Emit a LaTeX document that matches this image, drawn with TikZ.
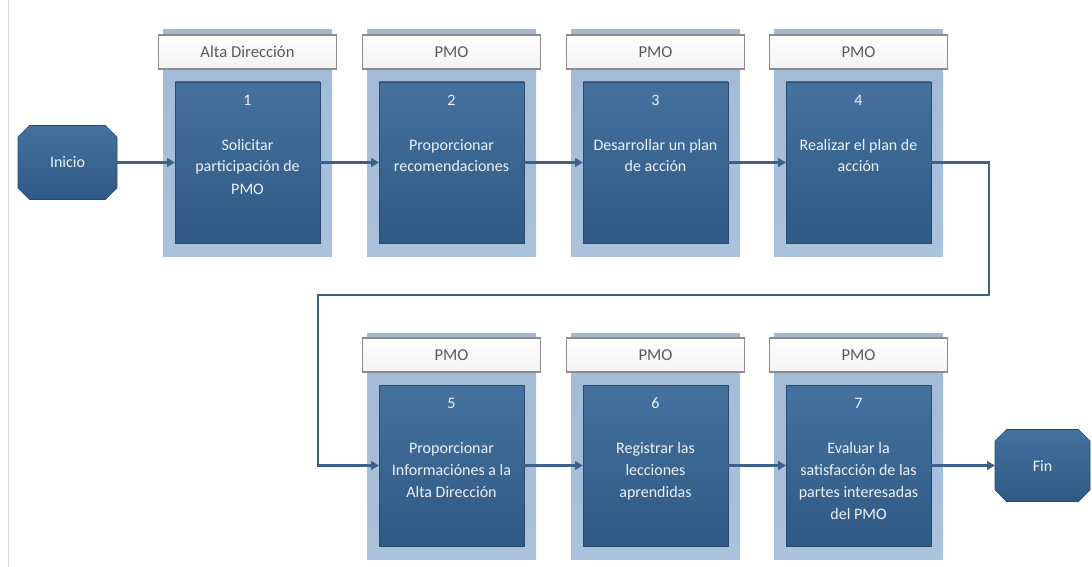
\documentclass[tikz,border=0pt]{standalone}
\usepackage{fontspec}
\setmainfont{Carlito}
\usetikzlibrary{arrows.meta,shapes.misc}
\definecolor{lightbox}{RGB}{170,194,220}
\definecolor{lighttop}{RGB}{160,186,214}
\definecolor{darktop}{RGB}{68,113,158}
\definecolor{darkbot}{RGB}{47,90,133}
\definecolor{arrowc}{RGB}{60,98,140}
\definecolor{hdredge}{RGB}{140,140,140}
\definecolor{hdrtext}{RGB}{90,90,90}
\definecolor{boxtext}{RGB}{236,241,246}
\definecolor{pageline}{RGB}{215,215,215}
\newcommand\pstep[6]{%
  \node[outerbox] (#1o) at (#2+84.5,#3+113) {};
  \node[hdrbox] (#1h) at (#2+84.5,#3+22) {#4};
  \node[innerbox] (#1i) at (#2+84.5,#3+132.5) {};
  \node[numtxt] (#1n) at (#2+84.5,#3+75) {#5};
  \node[numtxt] (#1t) at (#2+84.5,#3+120) {\parbox[t]{112pt}{\centering #6}};
}
\begin{document}
\begin{tikzpicture}[x=0.75pt,y=-0.75pt,
  outerbox/.style={rectangle, top color=lighttop, bottom color=lightbox, inner sep=0pt, outer sep=0pt,
    minimum width=169*0.75pt, minimum height=226*0.75pt},
  hdrbox/.style={rectangle, draw=hdredge, line width=0.8pt, top color=white, bottom color=black!5,
    minimum width=178*0.75pt, minimum height=34*0.75pt, inner sep=0pt, outer sep=0pt,
    text=hdrtext, font=\fontsize{12.5}{15}\selectfont},
  innerbox/.style={rectangle, top color=darktop, bottom color=darkbot, draw=darkbot!85!black, line width=0.4pt,
    minimum width=145*0.75pt, minimum height=161*0.75pt, inner sep=0pt, outer sep=0pt},
  numtxt/.style={text=boxtext, font=\fontsize{12}{16.5}\selectfont, inner sep=0pt, anchor=base},
  terminal/.style={chamfered rectangle, chamfered rectangle xsep=4.5pt, chamfered rectangle ysep=4.5pt,
    top color=darktop, bottom color=darkbot, draw=darkbot!85!black, line width=0.4pt,
    inner sep=0pt, outer sep=0pt, text=boxtext, font=\fontsize{12}{15}\selectfont},
  conn/.style={draw=arrowc, line width=1.6pt, -{Triangle[length=6pt,width=6.5pt]}}
]
\useasboundingbox (0,0) rectangle (1092,567);
\draw[pageline, line width=0.75pt] (8,0) -- (8,567);

\pstep{s1}{163}{30}{Alta Dirección}{1}{Solicitar\\participación de\\PMO}
\pstep{s2}{367}{30}{PMO}{2}{Proporcionar\\recomendaciones}
\pstep{s3}{571}{30}{PMO}{3}{Desarrollar un plan\\de acción}
\pstep{s4}{774}{30}{PMO}{4}{Realizar el plan de\\acción}
\pstep{s5}{367}{333}{PMO}{5}{Proporcionar\\Informaciónes a la\\Alta Dirección}
\pstep{s6}{571}{333}{PMO}{6}{Registrar las\\lecciones\\aprendidas}
\pstep{s7}{774}{333}{PMO}{7}{Evaluar la\\satisfacción de las\\partes interesadas\\del PMO}

\node[terminal, minimum width=99*0.75pt, minimum height=74*0.75pt] (ini) at (67.5,162.5) {Inicio};
\node[terminal, minimum width=95*0.75pt, minimum height=72*0.75pt] (fin) at (1042.5,465.5) {Fin};

\coordinate (t1) at (989,295);
\coordinate (t2) at (318,295);

\draw[conn] (ini.east) -- (s1i.west);
\draw[conn] (s1i.east) -- (s2i.west);
\draw[conn] (s2i.east) -- (s3i.west);
\draw[conn] (s3i.east) -- (s4i.west);
\draw[conn] (s4i.east) -| (t1) -- (t2) |- (s5i.west);
\draw[conn] (s5i.east) -- (s6i.west);
\draw[conn] (s6i.east) -- (s7i.west);
\draw[conn] (s7i.east) -- (fin.west);
\end{tikzpicture}
\end{document}
